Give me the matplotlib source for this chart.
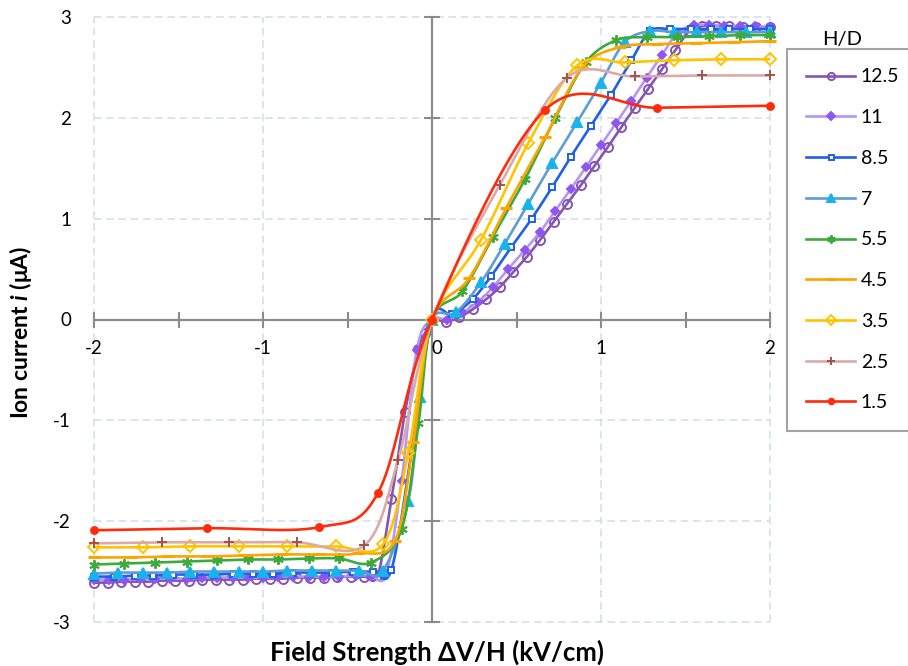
import numpy as np
import matplotlib
matplotlib.use("Agg")
import matplotlib.pyplot as plt
from matplotlib.lines import Line2D

plt.rcParams["font.family"] = ["Lato", "DejaVu Sans"]
plt.rcParams["axes.unicode_minus"] = False
plt.rcParams["mathtext.fontset"] = "custom"
plt.rcParams["mathtext.rm"] = "Lato:bold"
plt.rcParams["mathtext.it"] = "Lato:bold:italic"
plt.rcParams["mathtext.bf"] = "Lato:bold"

# ---- ion current vs field strength, one curve per H/D ratio ----
hd_labels = ["12.5", "11", "8.5", "7", "5.5", "4.5", "3.5", "2.5", "1.5"]

x_125 = [-2.00, -1.92, -1.84, -1.76, -1.68, -1.60, -1.52, -1.44, -1.36, -1.28, -1.20, -1.12,
         -1.04, -0.96, -0.88, -0.80, -0.72, -0.64, -0.56, -0.48, -0.40, -0.32, -0.24, -0.16,
         -0.08, -0.04, 0.00, 0.08, 0.16, 0.24, 0.32, 0.40, 0.48, 0.56, 0.64, 0.72, 0.80, 0.88,
         0.96, 1.04, 1.12, 1.20, 1.28, 1.36, 1.44, 1.52, 1.60, 1.68, 1.76, 1.84, 1.92, 2.00]
y_125 = [-2.61, -2.61, -2.60, -2.60, -2.60, -2.59, -2.59, -2.59, -2.58, -2.58, -2.58, -2.58,
         -2.57, -2.57, -2.57, -2.56, -2.56, -2.56, -2.55, -2.55, -2.55, -2.53, -1.78, -0.92,
         -0.29, -0.13, 0.00, -0.02, 0.02, 0.10, 0.20, 0.32, 0.47, 0.62, 0.79, 0.97, 1.15, 1.33,
         1.52, 1.71, 1.91, 2.10, 2.29, 2.48, 2.67, 2.86, 2.91, 2.91, 2.91, 2.90, 2.90, 2.90]

x_11 = [-2.00, -1.91, -1.82, -1.73, -1.64, -1.55, -1.45, -1.36, -1.27, -1.18, -1.09, -1.00,
        -0.91, -0.82, -0.73, -0.64, -0.55, -0.45, -0.36, -0.27, -0.18, -0.09, 0.00, 0.09,
        0.18, 0.27, 0.36, 0.45, 0.55, 0.64, 0.73, 0.82, 0.91, 1.00, 1.09, 1.18, 1.27, 1.36,
        1.45, 1.55, 1.64, 1.73, 1.82, 1.91, 2.00]
y_11 = [-2.58, -2.58, -2.58, -2.57, -2.57, -2.57, -2.57, -2.56, -2.56, -2.56, -2.56, -2.56,
        -2.55, -2.55, -2.55, -2.55, -2.55, -2.54, -2.54, -2.52, -1.60, -0.30, 0.00, 0.00,
        0.07, 0.17, 0.32, 0.50, 0.69, 0.87, 1.08, 1.29, 1.51, 1.73, 1.95, 2.17, 2.40, 2.62,
        2.84, 2.92, 2.92, 2.91, 2.91, 2.91, 2.90]

x_85 = [-2.00, -1.88, -1.76, -1.65, -1.53, -1.41, -1.29, -1.18, -1.06, -0.94, -0.82, -0.71,
        -0.59, -0.47, -0.35, -0.24, -0.12, 0.00, 0.12, 0.24, 0.35, 0.47, 0.59, 0.71, 0.82,
        0.94, 1.06, 1.18, 1.29, 1.41, 1.53, 1.65, 1.76, 1.88, 2.00]
y_85 = [-2.55, -2.55, -2.54, -2.54, -2.53, -2.53, -2.53, -2.52, -2.52, -2.52, -2.51, -2.51,
        -2.51, -2.50, -2.50, -2.48, -1.30, 0.00, 0.05, 0.20, 0.43, 0.72, 1.00, 1.31, 1.61,
        1.92, 2.23, 2.57, 2.86, 2.88, 2.88, 2.88, 2.88, 2.88, 2.88]

x_7 = [-2.00, -1.86, -1.71, -1.57, -1.43, -1.29, -1.14, -1.00, -0.86, -0.71, -0.57, -0.43,
       -0.29, -0.14, -0.07, 0.00, 0.14, 0.29, 0.43, 0.57, 0.71, 0.86, 1.00, 1.14, 1.29, 1.43,
       1.57, 1.71, 1.86, 2.00]
y_7 = [-2.52, -2.51, -2.51, -2.51, -2.50, -2.50, -2.50, -2.50, -2.49, -2.49, -2.49, -2.49,
       -2.49, -1.80, -0.77, 0.00, 0.07, 0.37, 0.75, 1.15, 1.55, 1.96, 2.35, 2.75, 2.86, 2.85,
       2.85, 2.85, 2.85, 2.85]

x_55 = [-2.00, -1.82, -1.64, -1.45, -1.27, -1.09, -0.91, -0.73, -0.55, -0.36, -0.18, -0.08,
        0.00, 0.18, 0.36, 0.55, 0.73, 0.91, 1.09, 1.27, 1.45, 1.64, 1.82, 2.00]
y_55 = [-2.43, -2.42, -2.41, -2.40, -2.39, -2.38, -2.38, -2.37, -2.37, -2.41, -2.08, -1.03,
        0.00, 0.28, 0.82, 1.39, 2.00, 2.55, 2.77, 2.80, 2.80, 2.81, 2.82, 2.82]

x_45 = [-2.00, -1.78, -1.56, -1.33, -1.11, -0.89, -0.67, -0.44, -0.22, -0.11, 0.00, 0.22,
        0.44, 0.67, 0.89, 1.11, 1.33, 1.56, 1.78, 2.00]
y_45 = [-2.36, -2.36, -2.35, -2.35, -2.34, -2.33, -2.33, -2.32, -2.20, -1.21, 0.00, 0.41,
        1.11, 1.81, 2.50, 2.70, 2.73, 2.74, 2.75, 2.76]

x_35 = [-2.00, -1.71, -1.43, -1.14, -0.86, -0.57, -0.29, -0.14, 0.00, 0.29, 0.57, 0.86, 1.14,
        1.43, 1.71, 2.00]
y_35 = [-2.26, -2.26, -2.25, -2.25, -2.25, -2.25, -2.23, -1.32, 0.00, 0.79, 1.75, 2.52, 2.55,
        2.57, 2.58, 2.58]

x_25 = [-2.00, -1.60, -1.20, -0.80, -0.40, -0.20, 0.00, 0.40, 0.80, 1.20, 1.60, 2.00]
y_25 = [-2.22, -2.21, -2.21, -2.21, -2.24, -1.39, 0.00, 1.33, 2.40, 2.41, 2.42, 2.42]

x_15 = [-2.00, -1.33, -0.67, -0.32, 0.00, 0.67, 1.33, 2.00]
y_15 = [-2.09, -2.07, -2.06, -1.72, 0.00, 2.08, 2.10, 2.12]

# curve styles: line colour, marker, marker face, marker edge, marker size
series = [
    (x_125, y_125, "#8554B4", "o", "none", "#8554B4", 6.5),
    (x_11, y_11, "#B596F4", "D", "#8E55F2", "#8E55F2", 4.5),
    (x_85, y_85, "#1F5FEA", "s", "white", "#1F5FEA", 4.5),
    (x_7, y_7, "#5E9CD6", "^", "#18B3EA", "#18B3EA", 6.5),
    (x_55, y_55, "#3CAB3C", (6, 2, 0), "#3CAB3C", "#3CAB3C", 7.5),
    (x_45, y_45, "#FFA300", "_", "#FFA300", "#FFA300", 8),
    (x_35, y_35, "#FFC300", "D", "none", "#FFC300", 6.5),
    (x_25, y_25, "#DBAAA8", "+", "#A4514C", "#A4514C", 7),
    (x_15, y_15, "#FF2B0C", "o", "#FF2B0C", "#FF2B0C", 5),
]


def smooth_curve(xs, ys, n=24):
    """Catmull-Rom style bezier smoothing through the measured points."""
    p = np.column_stack([xs, ys])
    p = np.vstack([p[0], p, p[-1]])
    t = np.linspace(0, 1, n, endpoint=False)[:, None]
    parts = []
    for i in range(1, len(p) - 2):
        p0, p1, p2, p3 = p[i - 1], p[i], p[i + 1], p[i + 2]
        c1 = p1 + (p2 - p0) / 6
        c2 = p2 - (p3 - p1) / 6
        seg = (1 - t) ** 3 * p1 + 3 * (1 - t) ** 2 * t * c1 + 3 * (1 - t) * t ** 2 * c2 + t ** 3 * p2
        parts.append(seg)
    parts.append(p[-2][None])
    out = np.vstack(parts)
    return out[:, 0], out[:, 1]


fig = plt.figure(figsize=(9.08, 6.66), dpi=100)
ax = fig.add_axes([94 / 908, 1 - 622 / 666, (770 - 94) / 908, (622 - 17) / 666])

axis_grey = "#8C8C8C"
grid_col = "#D3DCE9"

ax.set_xlim(-2, 2)
ax.set_ylim(-3, 3)
ax.set_xticks([-2, -1, 0, 1, 2])
ax.set_xticks([-1.5, -0.5, 0.5, 1.5], minor=True)
ax.set_yticks([-3, -2, -1, 0, 1, 2, 3])

# dashed gridlines, skipping the zero lines that carry the axes
for gx in [-2, -1, 1, 2]:
    ax.axvline(gx, color=grid_col, linestyle=(0, (5, 3)), linewidth=1.1, zorder=0, clip_on=False)
for gy in [-3, -2, -1, 1, 2, 3]:
    ax.axhline(gy, color=grid_col, linestyle=(0, (5, 3)), linewidth=1.1, zorder=0, clip_on=False)

for side in ["top", "right", "left"]:
    ax.spines[side].set_visible(False)
ax.spines["bottom"].set_position(("data", 0))
ax.spines["bottom"].set_color(axis_grey)
ax.spines["bottom"].set_linewidth(1.6)

ax.tick_params(axis="x", which="both", direction="inout", length=11, width=1.5,
               color=axis_grey, pad=9, labelsize=13.5)
ax.tick_params(axis="y", length=0, pad=16.5, labelsize=13.5)
for lab in ax.get_xticklabels():
    if lab.get_text() == "0":
        lab.set_horizontalalignment("left")

# vertical axis through x = 0
yzero = ax.secondary_yaxis(0.5)
yzero.set_yticks([-3, -2, -1, 0, 1, 2, 3])
yzero.tick_params(direction="inout", length=11, width=1.5, color=axis_grey,
                  labelleft=False, labelright=False)
for side in yzero.spines:
    yzero.spines[side].set_color(axis_grey)
    yzero.spines[side].set_linewidth(1.6)

handles = []
for (xs, ys, lc, mk, mfc, mec, ms), lab in zip(series, hd_labels):
    sx, sy = smooth_curve(xs, ys)
    ax.plot(sx, sy, color=lc, lw=1.9, solid_capstyle="round", zorder=3)
    mew = 2.2 if mk == "_" else 1.4
    ax.plot(xs, ys, linestyle="none", marker=mk, markersize=ms, markerfacecolor=mfc,
            markeredgecolor=mec, markeredgewidth=mew, zorder=3, clip_on=False)
    handles.append(Line2D([], [], color=lc, lw=1.9, marker=mk, markersize=ms * 0.8,
                          markerfacecolor=mfc, markeredgecolor=mec, markeredgewidth=mew))

leg = fig.legend(handles, hd_labels, loc="upper left", bbox_to_anchor=(787 / 908, 1 - 49 / 666),
                 borderaxespad=0, frameon=True, fancybox=False, fontsize=14,
                 handlelength=2.5, handletextpad=0.3, labelspacing=1.22, borderpad=1.0)
leg.get_frame().set_edgecolor(axis_grey)
leg.get_frame().set_linewidth(1.5)
fig.text(842 / 908, 1 - 40 / 666, "H/D", ha="center", va="center", fontsize=14.5)

fig.text(437 / 908, 1 - 652 / 666, "Field Strength ΔV/H (kV/cm)", ha="center", va="center",
         fontsize=18.5, fontweight="bold")
fig.text(21 / 908, 1 - 332 / 666, "Ion current $i$ (μA)", ha="center", va="center",
         rotation=90, fontsize=16.5, fontweight="bold")

fig.savefig("out.png", dpi=100)
